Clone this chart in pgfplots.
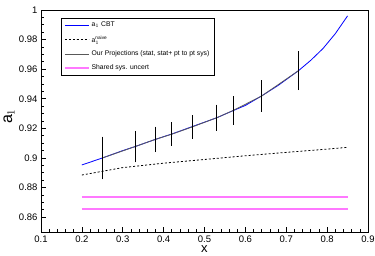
\documentclass[border=0pt]{standalone}
\usepackage{pgfplots}
\pgfplotsset{compat=1.18}
\usepackage{fontspec}
\setmainfont{Liberation Sans}
\definecolor{mag}{RGB}{255,120,255}
\begin{document}
\begin{tikzpicture}[x=1pt,y=1pt]
\useasboundingbox (-41,-24) rectangle (334,232);
\begin{axis}[
  at={(0,0)}, anchor=south west,
  scale only axis, width=327pt, height=222pt,
  xmin=0.1, xmax=0.9, ymin=0.85, ymax=1.0,
  xtick={0.1,0.2,...,0.9},
  xticklabels={0.1,0.2,0.3,0.4,0.5,0.6,0.7,0.8,0.9},
  ytick={0.86,0.88,0.9,0.92,0.94,0.96,0.98,1},
  yticklabels={0.86,0.88,0.9,0.92,0.94,0.96,0.98,1},
  minor x tick num=4, minor y tick num=3,
  tick align=inside, tick pos=left,
  major tick length=5pt, minor tick length=2.5pt,
  tick style={black, line width=0.6pt},
  axis line style={line width=0.8pt},
  every x tick label/.append style={font=\fontsize{9.5}{10}\selectfont},
  every y tick label/.append style={font=\fontsize{9.5}{10}\selectfont},
  xlabel={x}, ylabel={a$_1$},
  xlabel style={font=\fontsize{13}{14}\selectfont, yshift=3pt},
  ylabel style={font=\fontsize{16}{17}\selectfont, at={(axis description cs:0,0.52)}, anchor=center, yshift=32pt},
  legend style={at={(axis cs:0.149,0.9946)}, anchor=north west, font=\fontsize{6.8}{8}\selectfont,
    draw=black, inner xsep=3pt, inner ysep=2pt, row sep=3.3pt,
    cells={anchor=west}},
  legend image code/.code={\draw[mark repeat=2,mark phase=2] plot coordinates {(0pt,0pt) (12pt,0pt) (24pt,0pt)};},
]
\addplot[blue, line width=0.8pt] coordinates {
 (0.20,0.8953) (0.25,0.9000) (0.30,0.9050) (0.33,0.9077) (0.38,0.9126) (0.42,0.9162)
 (0.47,0.9212) (0.53,0.9272) (0.57,0.9320) (0.60,0.9355) (0.64,0.9420) (0.68,0.9490)
 (0.73,0.9590) (0.76,0.9660) (0.79,0.9740) (0.82,0.9840) (0.85,0.9960)};
\addlegendentry{a$_1$ CBT}
\addplot[black, line width=0.8pt, dash pattern=on 2pt off 2pt] coordinates {
 (0.20,0.8885) (0.30,0.8935) (0.40,0.8965) (0.50,0.8990) (0.60,0.9015) (0.70,0.9038) (0.80,0.9060) (0.85,0.9072)};
\addlegendentry{a$_1^{\mathrm{naive}}$}
\addplot[black!65, line width=0.8pt, mark=none,
  error bars/.cd, y dir=both, y explicit,
  error bar style={black, line width=1pt},
  error mark options={black, mark size=1pt, line width=0.6pt}]
 coordinates {
 (0.25,0.9000) +- (0,0.0137)
 (0.33,0.9077) +- (0,0.0100)
 (0.38,0.9126) +- (0,0.0079)
 (0.42,0.9161) +- (0,0.0073)
 (0.47,0.9210) +- (0,0.0073)
 (0.53,0.9272) +- (0,0.0082)
 (0.57,0.9321) +- (0,0.0091)
 (0.64,0.9419) +- (0,0.0101)
 (0.73,0.9590) +- (0,0.0124)};
\addlegendentry{Our Projections (stat, stat+ pt to pt sys)}
\addplot[mag, line width=1.4pt] coordinates {(0.2,0.8737) (0.85,0.8737)};
\addlegendentry{Shared sys. uncert}
\addplot[mag, line width=1.4pt, forget plot] coordinates {(0.2,0.8656) (0.85,0.8656)};
\end{axis}
\end{tikzpicture}
\end{document}
